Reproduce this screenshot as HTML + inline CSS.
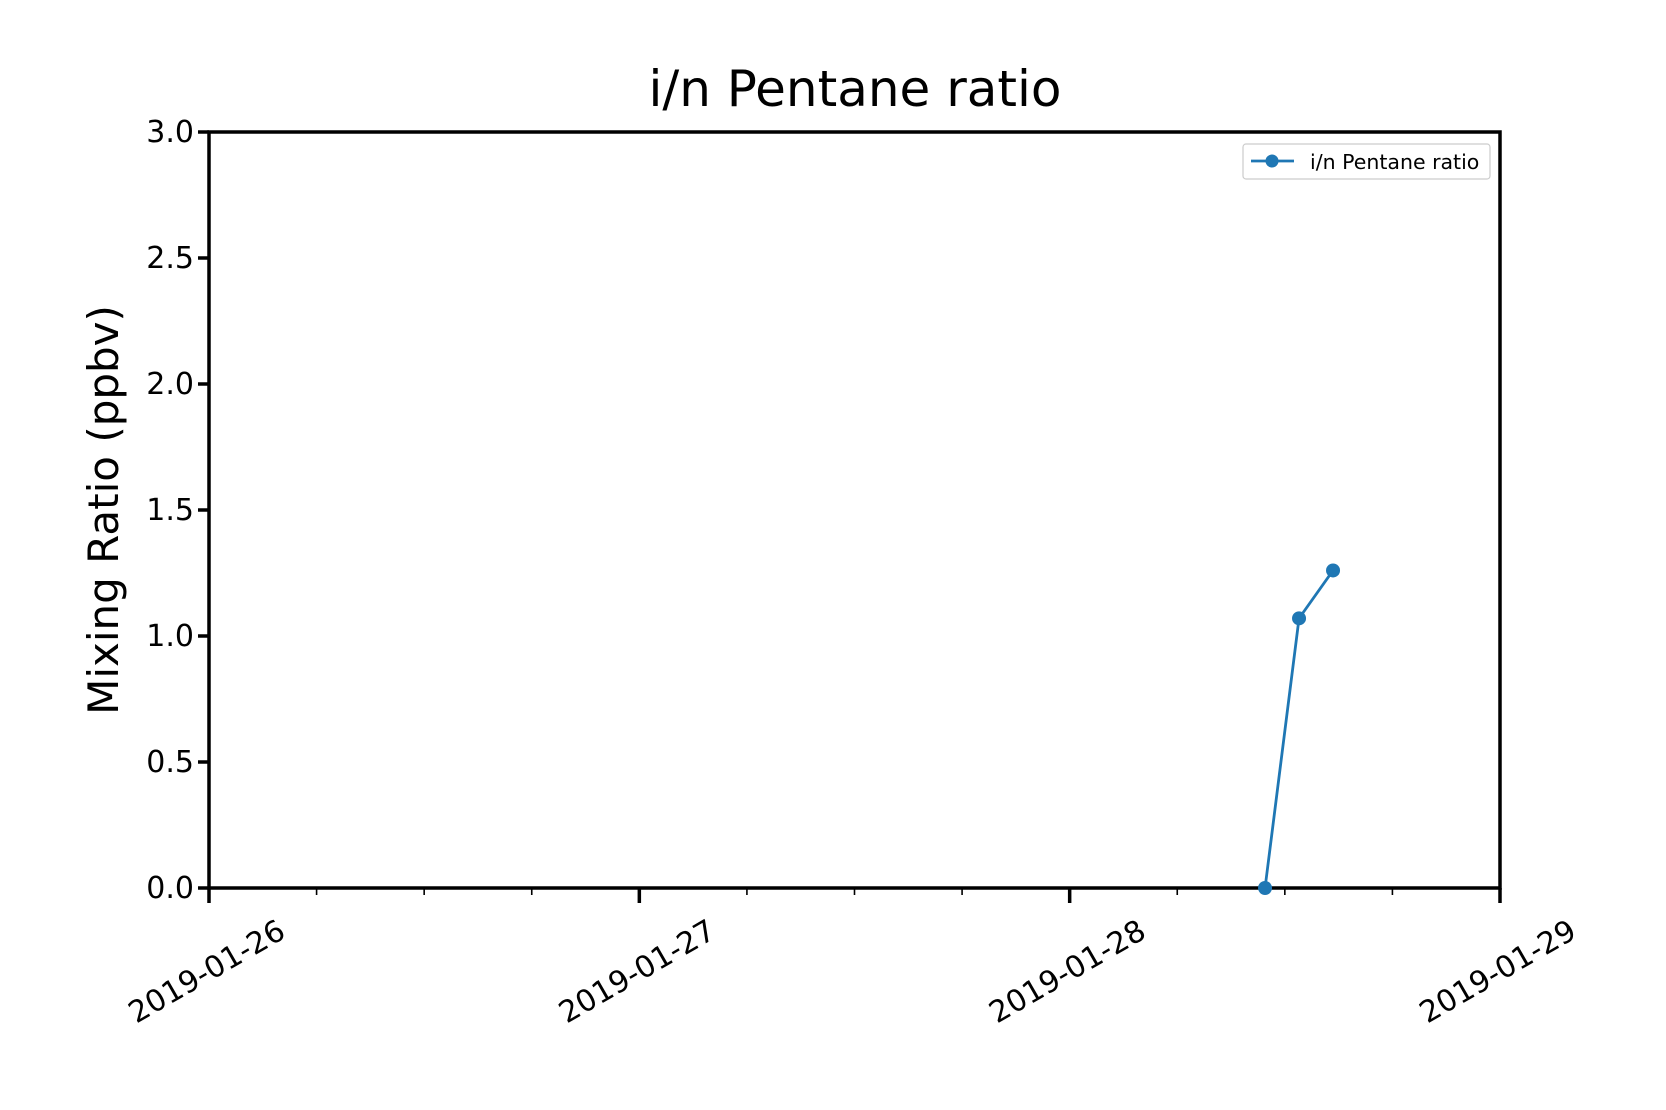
<!DOCTYPE html>
<html><head><meta charset="utf-8"><style>html,body{margin:0;padding:0;background:#fff}svg{display:block}text{font-family:"DejaVu Sans","Liberation Sans",sans-serif}</style></head>
<body>
<svg id="chart" width="1666" height="1110" viewBox="0 0 1666 1110" xmlns="http://www.w3.org/2000/svg">
<rect width="1666" height="1110" fill="#fff"/>
<text x="855" y="106" font-size="50" text-anchor="middle">i/n Pentane ratio</text>
<text transform="translate(118,510) rotate(-90)" font-size="42" text-anchor="middle">Mixing Ratio (ppbv)</text>
<g id="axes"></g>
<g id="series"></g>
<g>
<rect x="1243" y="144" width="247" height="35" rx="3" fill="#fff" stroke="#ccc" stroke-width="1.2"/>
<line x1="1251" y1="161" x2="1294" y2="161" stroke="#1f77b4" stroke-width="2.7"/>
<circle cx="1272" cy="161" r="6.5" fill="#1f77b4"/>
<text x="1310" y="169" font-size="20.5">i/n Pentane ratio</text>
</g>
</svg>
<script>
const xTickLabels = ["2019-01-26","2019-01-27","2019-01-28","2019-01-29"];
const yTickLabels = ["0.0","0.5","1.0","1.5","2.0","2.5","3.0"];
const yTickValues = [0,0.5,1,1.5,2,2.5,3];
const pointTimes = [2.454, 2.533, 2.612]; // days after 2019-01-26
const pointValues = [0.0, 1.07, 1.26];

const L=209,R=1500,T=132,B=888, X0=0,X1=3, Y0=0,Y1=3;
const xs=v=>L+(v-X0)/(X1-X0)*(R-L);
const ys=v=>B-(v-Y0)/(Y1-Y0)*(B-T);
const NS="http://www.w3.org/2000/svg";
function mk(tag,attrs,parent){const e=document.createElementNS(NS,tag);for(const k in attrs)e.setAttribute(k,attrs[k]);parent.appendChild(e);return e;}
const ax=document.getElementById('axes');
const sr=document.getElementById('series');

let f=mk('rect',{x:L,y:T,width:R-L,height:B-T,fill:'none',stroke:'#000','stroke-width':3.5},ax);



yTickValues.forEach((v,i)=>{
  let t=mk('line',{x1:L-11,x2:L,y1:ys(v),y2:ys(v),stroke:'#000','stroke-width':3.5},ax);
  
  
  let l=mk('text',{x:L-15,y:ys(v)+10,'font-size':30,'text-anchor':'end'},ax);
  l.textContent=yTickLabels[i];
  
  
});
xTickLabels.forEach((s,i)=>{
  const x=xs(i);
  let t=mk('line',{x1:x,x2:x,y1:B,y2:B+15,stroke:'#000','stroke-width':3.5},ax);
  
  
  let l=mk('text',{transform:`translate(${x-2},972) rotate(-30)`,'font-size':30,'text-anchor':'middle','dominant-baseline':'central'},ax);
  l.textContent=s;
  
  
});
for(let d=0;d<3;d++)for(let q=1;q<4;q++){
  const x=xs(d+q/4);
  let t=mk('line',{x1:x,x2:x,y1:B,y2:B+7,stroke:'#000','stroke-width':1.6},ax);
  
  
}
let pl=mk('polyline',{points:pointTimes.map((t,i)=>xs(t)+','+ys(pointValues[i])).join(' '),fill:'none',stroke:'#1f77b4','stroke-width':2.8},sr);


pointTimes.forEach((t,i)=>{
  let c=mk('circle',{cx:xs(t),cy:ys(pointValues[i]),r:7,fill:'#1f77b4'},sr);
  
  
});
</script>
</body></html>
